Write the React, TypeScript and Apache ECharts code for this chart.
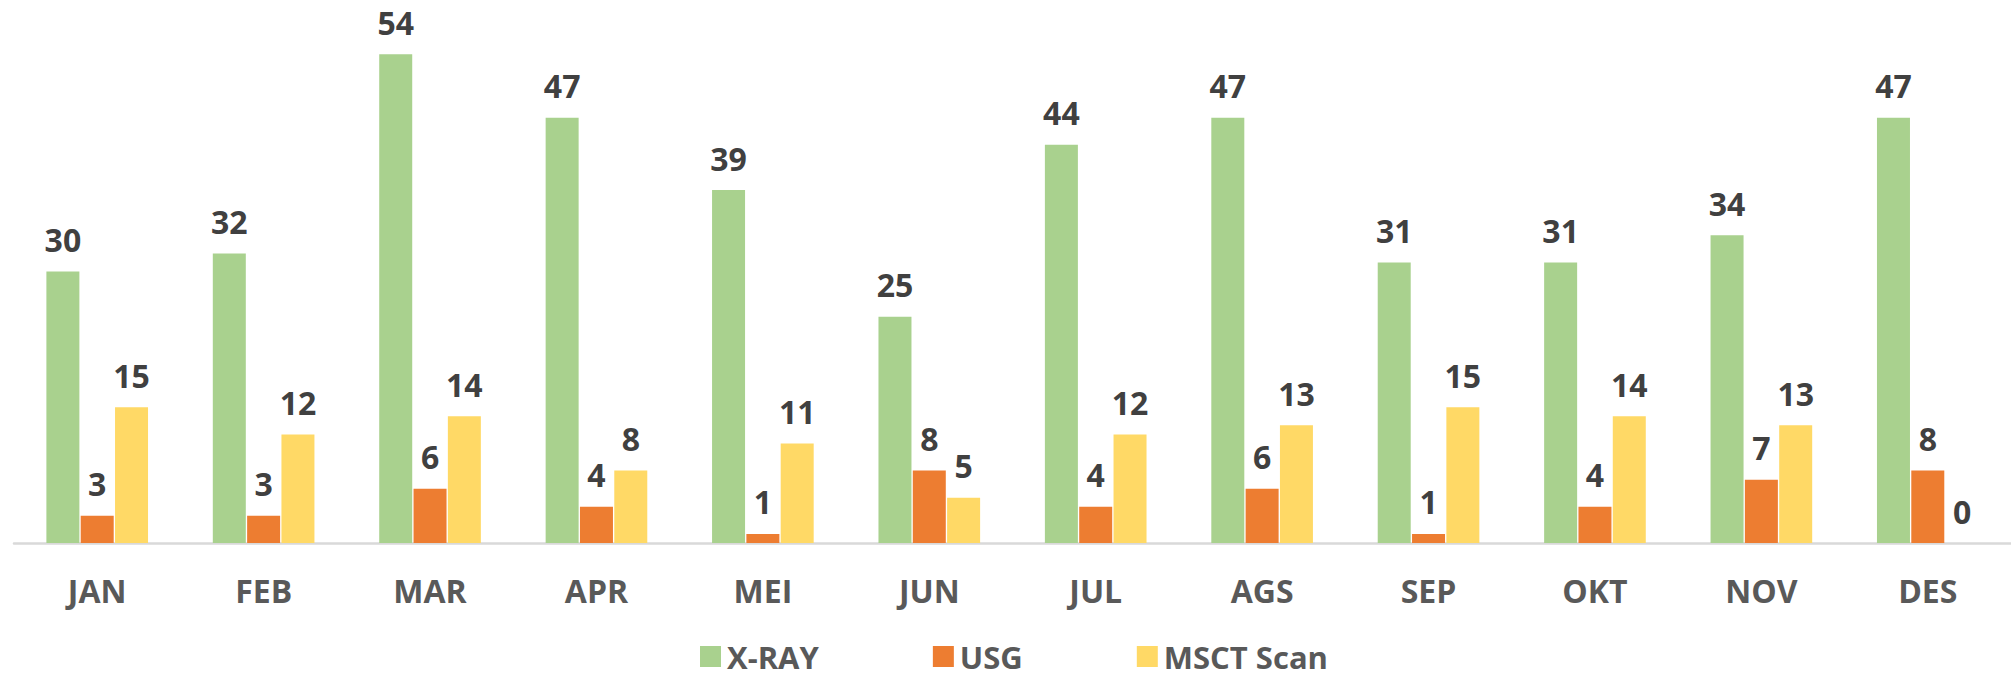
import React, { useEffect, useRef } from "react";
import * as echarts from "echarts";

const months = ["JAN", "FEB", "MAR", "APR", "MEI", "JUN", "JUL", "AGS", "SEP", "OKT", "NOV", "DES"];
const xray = [30, 32, 54, 47, 39, 25, 44, 47, 31, 31, 34, 47];
const usg = [3, 3, 6, 4, 1, 8, 4, 6, 1, 4, 7, 8];
const msct = [15, 12, 14, 8, 11, 5, 12, 13, 15, 14, 13, 0];
const seriesNames = ["X-RAY", "USG", "MSCT Scan"];
const colors = ["#A9D18E", "#ED7D31", "#FFD966"];

const FONT = "Open Sans";

export default function App() {
  const ref = useRef<HTMLDivElement>(null);
  useEffect(() => {
    if (!ref.current) return;
    const chart = echarts.init(ref.current, undefined, { renderer: "svg" });
    const label = {
      show: true,
      position: "top" as const,
      distance: 16,
      fontFamily: FONT,
      fontSize: 32,
      fontWeight: "bold" as const,
      color: "#404040",
    };
    const mk = (name: string, data: number[], color: string) => ({
      name,
      type: "bar" as const,
      data,
      barWidth: 33,
      barGap: "4%",
      itemStyle: { color },
      label,
    });
    chart.setOption({
      animation: false,
      color: colors,
      grid: { left: 14, top: 0, width: 1998, height: 543, containLabel: false },
      legend: {
        data: seriesNames,
        left: 700,
        top: 641,
        padding: 0,
        itemWidth: 21,
        itemHeight: 21,
        itemGap: 114,
        icon: "rect",
        textStyle: {
          fontFamily: FONT,
          fontSize: 31,
          lineHeight: 28,
          fontWeight: "bold",
          color: "#595959",
          padding: [0, 0, 0, 1],
        },
      },
      xAxis: {
        type: "category",
        data: months,
        axisLine: { show: true, lineStyle: { color: "#D9D9D9", width: 2.5 } },
        axisTick: { show: false },
        axisLabel: { margin: 31, fontFamily: FONT, fontSize: 32, fontWeight: "bold", color: "#595959" },
      },
      yAxis: {
        type: "value",
        min: 0,
        max: 60,
        show: false,
        splitLine: { show: false },
      },
      series: [mk(seriesNames[0], xray, colors[0]), mk(seriesNames[1], usg, colors[1]), mk(seriesNames[2], msct, colors[2])],
    });
    return () => chart.dispose();
  }, []);
  return <div ref={ref} style={{ position: "absolute", left: 0, top: 0, width: 2011, height: 677, background: "#fff" }} />;
}
